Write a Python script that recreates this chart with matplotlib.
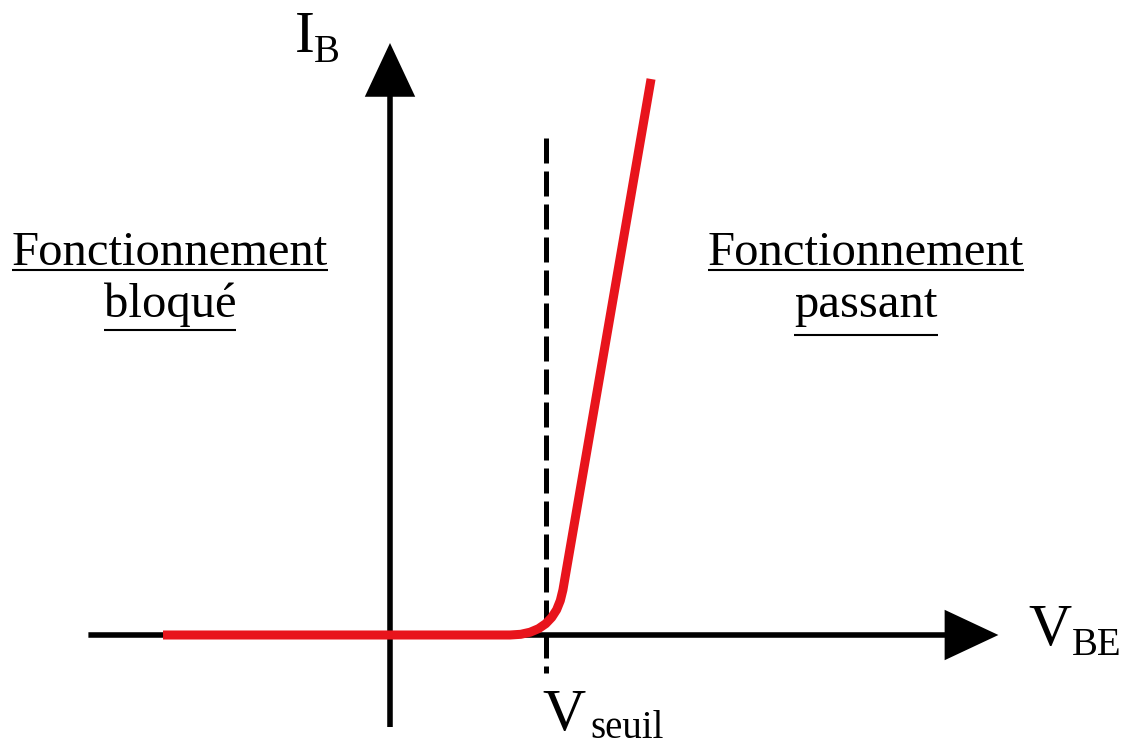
import matplotlib
matplotlib.use("Agg")
import matplotlib.pyplot as plt
from matplotlib.patches import FancyArrowPatch, ArrowStyle

plt.rcParams['font.family'] = ['Liberation Serif', 'DejaVu Serif']

v_be = [-0.873, 0.462, 0.503, 0.539, 0.571, 0.599, 0.622, 0.641, 0.655, 0.665, 1.004]
i_b = [0.0, 0.0, 0.007, 0.028, 0.063, 0.113, 0.176, 0.253, 0.344, 0.45, 5.56]
v_seuil = 0.6

# etendue des axes dessines
x_axe = (-1.16, 2.34)
y_axe = (-0.92, 5.92)
seuil_haut, seuil_bas = 4.97, -0.38

gauche = ["Fonctionnement", "bloqué"]
droite = ["Fonctionnement", "passant"]

fig = plt.figure(figsize=(11.29, 7.48), dpi=100)
ax = fig.add_axes([0, 0, 1, 1])
ax.set_xlim(-1.5, (1129 - 390) / 260)
ax.set_ylim((635 - 748) / 100, 6.35)
ax.axis('off')

# axes avec fleches
style = ArrowStyle('-|>', head_length=32, head_width=15)
for xs, ys in [((x_axe[0], 0), (x_axe[1], 0)), ((0, y_axe[0]), (0, y_axe[1]))]:
    fl = FancyArrowPatch(xs, ys, arrowstyle=style, mutation_scale=1,
                         color='black', lw=4, shrinkA=0, shrinkB=0,
                         joinstyle='miter', capstyle='butt')
    ax.add_patch(fl)

# tension de seuil
ax.plot([v_seuil, v_seuil], [seuil_haut, seuil_bas], color='black', lw=3.6,
        dashes=(5, 1.6), dash_capstyle='butt')

# courbe
ax.plot(v_be, i_b, color='#e8141c', lw=6.5, solid_capstyle='butt',
        solid_joinstyle='round', zorder=3)

# etiquettes des axes
ax.text((295 - 390) / 260, (635 - 52) / 100, "I", fontsize=43, ha='left', va='baseline')
ax.text((314 - 390) / 260, (635 - 62) / 100, "B", fontsize=28, ha='left', va='baseline')
ax.text((1028 - 390) / 260, (635 - 645) / 100, "V", fontsize=43, ha='left', va='baseline')
ax.text((1072 - 390) / 260, (635 - 655) / 100, "BE", fontsize=28, ha='left', va='baseline')
ax.text((542 - 390) / 260, (635 - 730) / 100, "V", fontsize=43, ha='left', va='baseline')
ax.text((590 - 390) / 260, (635 - 738) / 100, "seuil", fontsize=28, ha='left', va='baseline')

# zones de fonctionnement (soulignees)
textes = []
for cx, lignes, bas in [((170 - 390) / 260, gauche, 330), ((866 - 390) / 260, droite, 335)]:
    for lig, base, sous in zip(lignes, [265, 317], [270, bas]):
        t = ax.text(cx, (635 - base) / 100, lig, fontsize=35, ha='center', va='baseline')
        textes.append((t, (635 - sous) / 100))

fig.canvas.draw()
inv = ax.transData.inverted()
for t, y in textes:
    bb = t.get_window_extent()
    x0 = inv.transform((bb.x0, 0))[0]
    x1 = inv.transform((bb.x1, 0))[0]
    ax.plot([x0, x1], [y, y], color='black', lw=1.5, solid_capstyle='butt')

fig.savefig("out.png", dpi=100)
